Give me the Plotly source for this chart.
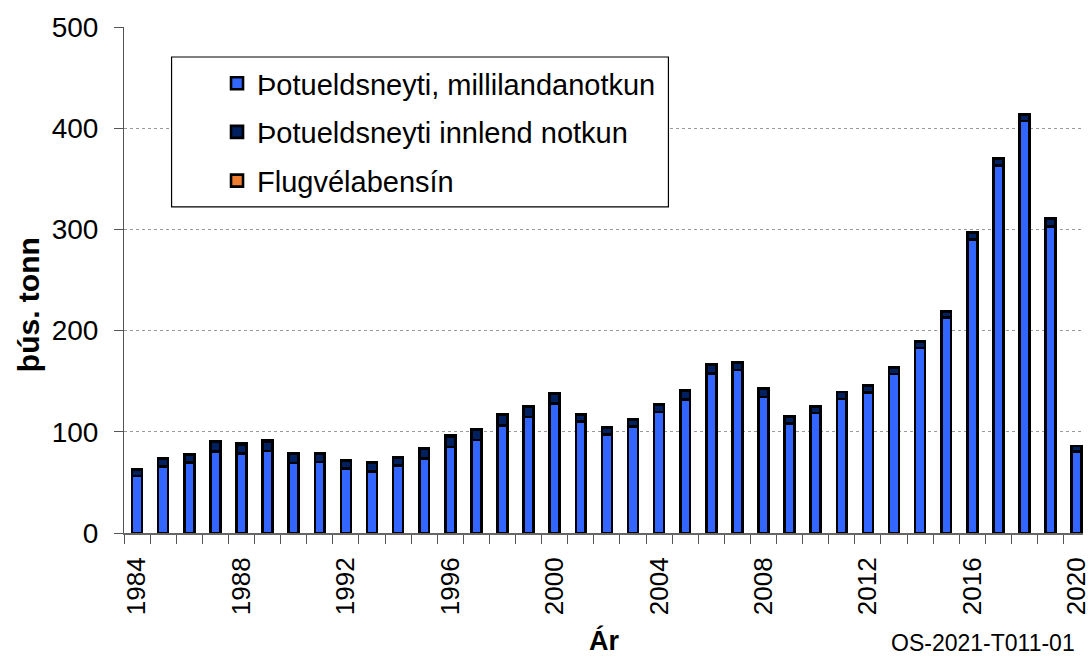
import plotly.graph_objects as go

# years on the x axis
years = list(range(1984, 2021))

# thousand tonnes
millilanda = [56.5, 65.5, 69.5, 80.5, 78.5, 81.0, 69.0, 70.0, 63.5, 60.5,
              66.5, 73.5, 85.0, 92.0, 106.0, 114.5, 128.0, 110.0, 97.5, 105.0,
              119.5, 132.0, 157.5, 161.0, 134.5, 108.0, 118.5, 132.5, 139.0, 157.0,
              183.0, 213.0, 290.0, 363.0, 407.0, 303.0, 80.5]
innlend = [6.1, 8.1, 8.1, 9.6, 9.1, 9.6, 9.6, 8.6, 8.1, 8.6,
           7.6, 9.4, 10.6, 9.6, 10.6, 10.1, 9.6, 7.1, 6.6, 6.6,
           7.1, 8.6, 9.1, 7.1, 8.2, 6.7, 6.7, 6.7, 6.7, 6.7,
           5.7, 5.7, 6.7, 6.7, 6.7, 7.7, 5.3]
flugvelabensin = [0.6, 0.6, 0.6, 0.6, 0.6, 0.6, 0.5, 0.5, 0.5, 0.5,
                  0.5, 0.5, 0.5, 0.5, 0.5, 0.5, 0.4, 0.4, 0.4, 0.4,
                  0.4, 0.4, 0.4, 0.4, 0.3, 0.3, 0.3, 0.3, 0.3, 0.3,
                  0.3, 0.3, 0.3, 0.3, 0.3, 0.3, 0.2]

series_names = ["Þotueldsneyti, millilandanotkun",
                "Þotueldsneyti innlend notkun",
                "Flugvélabensín"]
series_colors = ["#3366FF", "#002060", "#ED7D31"]

label_years = years[::4]
y_ticks = [0, 100, 200, 300, 400, 500]

FONT = "Liberation Sans, Arial, sans-serif"

fig = go.Figure()

for name, vals, color in zip(series_names,
                             [millilanda, innlend, flugvelabensin],
                             series_colors):
    fig.add_trace(go.Bar(
        x=years,
        y=vals,
        name=name,
        legendgroup=name,
        marker=dict(color=color, line=dict(color="black", width=2.6)),
    ))

# legend frame (wider than plotly's own box in the original)
fig.add_shape(
    type="rect", xref="paper", yref="paper",
    x0=0.0496, x1=0.5677, y0=0.6445, y1=0.9407,
    line=dict(color="black", width=1.2), fillcolor="white", layer="above",
)

fig.add_annotation(text="<b>þús. tonn</b>", xref="paper", yref="paper",
                   x=-0.119, y=0.451, textangle=-90, showarrow=False,
                   font=dict(size=30, color="black", family=FONT))
fig.add_annotation(text="<b>Ár</b>", xref="paper", yref="paper",
                   x=0.5, y=0, yshift=-125, showarrow=False,
                   font=dict(size=27, color="black", family=FONT))
fig.add_annotation(text="OS-2021-T011-01", xref="paper", yref="paper",
                   x=0.994, xanchor="right", y=0, yshift=-125, showarrow=False,
                   font=dict(size=23, color="black", family=FONT))

fig.update_layout(
    width=1091,
    height=656,
    barmode="stack",
    bargap=0.62,
    plot_bgcolor="white",
    paper_bgcolor="white",
    font=dict(family=FONT, color="black", size=26),
    margin=dict(l=124, r=0, t=27, b=123),
    showlegend=True,
    legend=dict(
        x=0.097, y=0.939, xanchor="left", yanchor="top",
        traceorder="grouped", tracegroupgap=8,
        font=dict(size=29, family=FONT),
        bgcolor="rgba(0,0,0,0)", borderwidth=0,
    ),
    xaxis=dict(
        range=[1983.5, 2020.24],
        tickvals=label_years,
        ticktext=[str(y) for y in label_years],
        tickangle=-90,
        ticks="",
        ticklabelstandoff=12,
        ticklabeloverflow="allow",
        tickfont=dict(size=26),
        showline=True, linecolor="#666666", linewidth=2,
        showgrid=False, zeroline=False,
        minor=dict(ticks="outside", tick0=1983.5, dtick=1, ticklen=9,
                   tickcolor="#555555", tickwidth=1, showgrid=False),
    ),
    yaxis=dict(
        range=[0, 500],
        tickvals=y_ticks,
        ticks="outside", ticklen=9, tickcolor="#555555",
        ticklabelstandoff=10,
        tickfont=dict(size=28),
        showline=True, linecolor="#555555", linewidth=1,
        showgrid=True, gridcolor="#9a9a9a", griddash="dot", gridwidth=1,
        zeroline=False,
    ),
)

# drop the browser's default body margin so the figure sits at the top-left corner
fig.write_html("out.html", config={"displayModeBar": False},
               post_script="document.body.style.margin='0';")
